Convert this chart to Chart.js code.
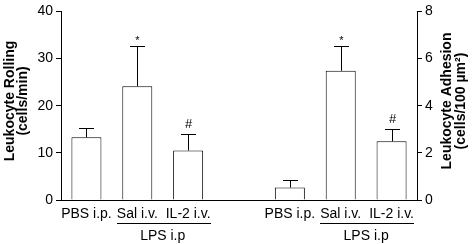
<!DOCTYPE html>
<html><head><meta charset="utf-8">
<script src="https://cdn.jsdelivr.net/npm/chart.js@4/dist/chart.umd.min.js"></script>
<style>html,body{margin:0;padding:0;background:#fff}#wrap{width:476px;height:244px;position:relative}</style>
</head><body><div id="wrap"><canvas id="c" width="476" height="244"></canvas></div>
<script>
const categories = ['PBS i.p.', 'Sal i.v.', 'IL-2 i.v.', '', 'PBS i.p.', 'Sal i.v.', 'IL-2 i.v.'];
const rollingMean = [13.3, 24.15, 10.5, null, null, null, null];
const rollingSem  = [1.9, 8.55, 3.5, null, null, null, null];
const adhesionMean = [null, null, null, null, 0.53, 5.48, 2.49];
const adhesionSem  = [null, null, null, null, 0.32, 1.05, 0.54];
const marks = ['', '*', '#', '', '', '*', '#'];
const rollingTicks = [0, 10, 20, 30, 40];
const adhesionTicks = [0, 2, 4, 6, 8];
const groupLabel = 'LPS i.p';
const leftTitle = ['Leukocyte Rolling', '(cells/min)'];
const rightTitle = ['Leukocyte Adhesion', '(cells/100 µm²)'];

const FONT = '"Liberation Sans", Arial, Helvetica, sans-serif';

const overlay = {
  id: 'overlay',
  afterDatasetsDraw(chart) {
    const ctx = chart.ctx;
    const x = chart.scales.x, yL = chart.scales.y, yR = chart.scales.y2;
    ctx.save();
    ctx.strokeStyle = '#000';
    ctx.fillStyle = '#000';
    ctx.lineWidth = 1;
    const drawErr = (means, sems, scale) => {
      means.forEach((m, i) => {
        if (m == null) return;
        const cx = Math.round(x.getPixelForValue(i)) + 0.5;
        const yTop = scale.getPixelForValue(m);
        const yE = Math.round(scale.getPixelForValue(m + sems[i])) + 0.5;
        ctx.beginPath();
        ctx.moveTo(cx, yTop); ctx.lineTo(cx, yE);
        ctx.moveTo(cx - 7.5, yE); ctx.lineTo(cx + 7.5, yE);
        ctx.stroke();
        if (marks[i]) {
          ctx.textAlign = 'center';
          ctx.textBaseline = 'middle';
          if (marks[i] === '*') {
            ctx.font = '11px ' + FONT;
            ctx.fillText(marks[i], cx, yE - 6);
          } else {
            ctx.font = '13px ' + FONT;
            ctx.fillText(marks[i], cx, yE - 10);
          }
        }
      });
    };
    drawErr(rollingMean, rollingSem, yL);
    drawErr(adhesionMean, adhesionSem, yR);

    // group lines and labels
    ctx.font = '14px ' + FONT;
    [[1, 2], [5, 6]].forEach(([a, b]) => {
      const xa = x.getPixelForValue(a), xb = x.getPixelForValue(b);
      const wa = ctx.measureText(categories[a]).width, wb = ctx.measureText(categories[b]).width;
      const l = Math.round(xa - wa / 2), r = Math.round(xb + wb / 2);
      ctx.beginPath();
      ctx.moveTo(l, 223.5); ctx.lineTo(r, 223.5);
      ctx.stroke();
      ctx.textAlign = 'center';
      ctx.textBaseline = 'middle';
      ctx.fillText(groupLabel, (xa + xb) / 2, 236);
    });

    // axis titles
    ctx.font = 'bold 14px ' + FONT;
    ctx.textAlign = 'center';
    ctx.textBaseline = 'middle';
    const midY = 101;
    const drawTitle = (lines, xs) => {
      lines.forEach((t, k) => {
        ctx.save();
        ctx.translate(xs[k], midY);
        ctx.rotate(-Math.PI / 2);
        ctx.fillText(t, 0, 0);
        ctx.restore();
      });
    };
    drawTitle(leftTitle, [10, 23]);
    drawTitle(rightTitle, [447, 461]);
    ctx.restore();
  }
};

new Chart(document.getElementById('c'), {
  type: 'bar',
  data: {
    labels: categories,
    datasets: [
      { data: rollingMean, yAxisID: 'y', backgroundColor: '#fff', borderColor: '#000', borderWidth: 1, borderSkipped: 'bottom', grouped: false, barPercentage: 0.59, categoryPercentage: 1 },
      { data: adhesionMean, yAxisID: 'y2', backgroundColor: '#fff', borderColor: '#000', borderWidth: 1, borderSkipped: 'bottom', grouped: false, barPercentage: 0.59, categoryPercentage: 1 }
    ]
  },
  options: {
    responsive: false,
    animation: false,
    devicePixelRatio: 1,
    layout: { padding: { top: 10, left: 0, right: 0, bottom: 0 } },
    plugins: { legend: { display: false }, tooltip: { enabled: false } },
    scales: {
      x: {
        grid: { display: false, drawTicks: false },
        border: { display: true, color: '#000', width: 1 },
        ticks: { color: '#000', font: { family: FONT, size: 14 }, padding: 6, maxRotation: 0, autoSkip: false },
        afterFit(s) { s.height = 44; }
      },
      y: {
        position: 'left', min: 0, max: 40,
        afterBuildTicks(s) { s.ticks = rollingTicks.map(v => ({ value: v })); },
        grid: { display: true, drawOnChartArea: false, drawTicks: true, tickLength: 5, color: '#000' },
        border: { display: true, color: '#000', width: 1 },
        ticks: { color: '#000', font: { family: FONT, size: 14 }, padding: 3 },
        afterFit(s) { s.width = 61; }
      },
      y2: {
        position: 'right', min: 0, max: 8,
        afterBuildTicks(s) { s.ticks = adhesionTicks.map(v => ({ value: v })); },
        grid: { display: true, drawOnChartArea: false, drawTicks: true, tickLength: 5, color: '#000' },
        border: { display: true, color: '#000', width: 1 },
        ticks: { color: '#000', font: { family: FONT, size: 14 }, padding: 3 },
        afterFit(s) { s.width = 59; }
      }
    }
  },
  plugins: [overlay]
});
</script></body></html>
